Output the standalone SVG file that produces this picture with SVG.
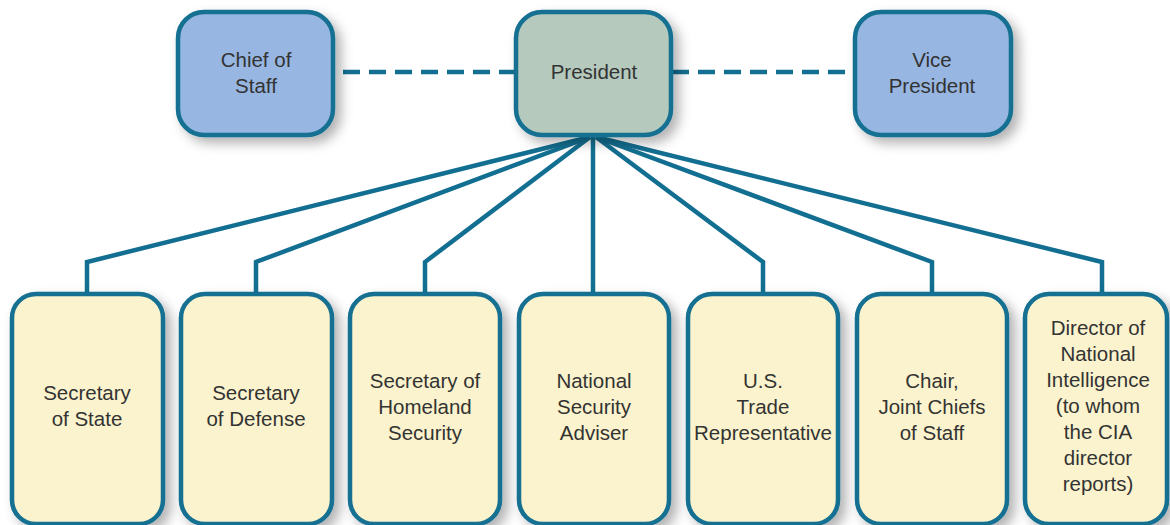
<svg xmlns="http://www.w3.org/2000/svg" width="1170" height="525" viewBox="0 0 1170 525">
<defs>
<filter id="sh" x="-20%" y="-20%" width="150%" height="150%">
<feDropShadow dx="6" dy="6" stdDeviation="6" flood-color="#000" flood-opacity="0.3"/>
</filter>
</defs>
<style>
.box{stroke:#136f91;stroke-width:4.5;filter:url(#sh)}
.blue{fill:#97b6e1}
.green{fill:#b5c9bd}
.yellow{fill:#fbf3cd}
.conn{fill:none;stroke:#136f91;stroke-width:4.5;stroke-linejoin:miter}
.dash{fill:none;stroke:#136f91;stroke-width:4.5;stroke-dasharray:17 9}
text{font-family:"Liberation Sans",Arial,sans-serif;font-size:20.5px;fill:#333;text-anchor:middle}
</style>
<rect width="1170" height="525" fill="#fff"/>
<g id="connectors">
<line class="dash" x1="343" y1="72" x2="515" y2="72"/>
<line class="dash" x1="672" y1="72" x2="854" y2="72"/>
<polyline class="conn" points="590,137 87,262 87,295"/>
<polyline class="conn" points="590,137 256,262 256,295"/>
<polyline class="conn" points="590,137 425,262 425,295"/>
<polyline class="conn" points="593,137 593,295"/>
<polyline class="conn" points="596,137 763,262 763,295"/>
<polyline class="conn" points="596,137 932,262 932,295"/>
<polyline class="conn" points="596,137 1102,262 1102,295"/>
</g>
<g id="chief-of-staff">
<rect class="box blue" x="178" y="12" width="155" height="123" rx="26"/>
<text x="256" y="67">Chief of</text>
<text x="256" y="93">Staff</text>
</g>
<g id="president">
<rect class="box green" x="516" y="12" width="155" height="123" rx="26"/>
<text x="594" y="79">President</text>
</g>
<g id="vice-president">
<rect class="box blue" x="855" y="12" width="156" height="123" rx="26"/>
<text x="932" y="67">Vice</text>
<text x="932" y="93">President</text>
</g>
<g id="secretary-of-state">
<rect class="box yellow" x="12" y="294" width="151" height="230" rx="24"/>
<text x="87" y="400">Secretary</text>
<text x="87" y="426">of State</text>
</g>
<g id="secretary-of-defense">
<rect class="box yellow" x="181" y="294" width="151" height="230" rx="24"/>
<text x="256" y="400">Secretary</text>
<text x="256" y="426">of Defense</text>
</g>
<g id="secretary-of-homeland-security">
<rect class="box yellow" x="350" y="294" width="150" height="230" rx="24"/>
<text x="425" y="388">Secretary of</text>
<text x="425" y="414">Homeland</text>
<text x="425" y="440">Security</text>
</g>
<g id="national-security-adviser">
<rect class="box yellow" x="519" y="294" width="150" height="230" rx="24"/>
<text x="594" y="388">National</text>
<text x="594" y="414">Security</text>
<text x="594" y="440">Adviser</text>
</g>
<g id="us-trade-representative">
<rect class="box yellow" x="688" y="294" width="150" height="230" rx="24"/>
<text x="763" y="388">U.S.</text>
<text x="763" y="414">Trade</text>
<text x="763" y="440">Representative</text>
</g>
<g id="chair-joint-chiefs">
<rect class="box yellow" x="857" y="294" width="150" height="230" rx="24"/>
<text x="932" y="388">Chair,</text>
<text x="932" y="414">Joint Chiefs</text>
<text x="932" y="440">of Staff</text>
</g>
<g id="director-of-national-intelligence">
<rect class="box yellow" x="1025" y="294" width="142" height="230" rx="24"/>
<text x="1098" y="335">Director of</text>
<text x="1098" y="361">National</text>
<text x="1098" y="387">Intelligence</text>
<text x="1098" y="413">(to whom</text>
<text x="1098" y="439">the CIA</text>
<text x="1098" y="465">director</text>
<text x="1098" y="491">reports)</text>
</g>
</svg>
